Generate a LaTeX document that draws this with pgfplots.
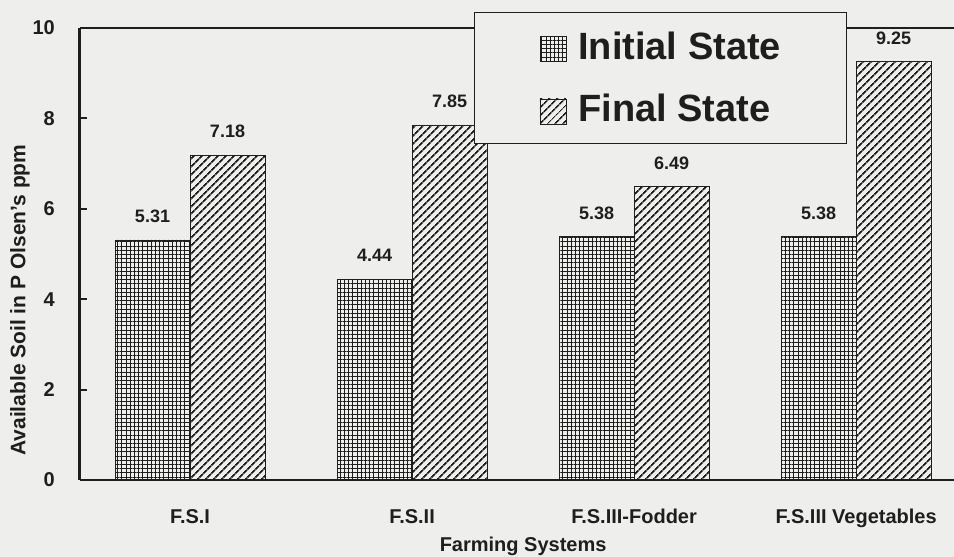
\documentclass[border=0pt]{standalone}
\usepackage{pgfplots}
\pgfplotsset{compat=1.18}
\usepackage{fontspec}
\setmainfont{Liberation Sans}
\usetikzlibrary{patterns.meta}
\definecolor{bg}{RGB}{238,238,236}
\definecolor{ink}{RGB}{30,30,30}
\tikzset{
  gridpat/.style={pattern={Hatch[angle=0,distance=4.2pt,line width=1pt]},pattern color=ink},
  linepat/.style={pattern={Lines[angle=45,distance=5.4pt,line width=1.7pt]},pattern color=ink},
}
\begin{document}
\begin{tikzpicture}
\fill[bg] (-80pt,-77pt) rectangle (874pt,480pt);
\begin{axis}[
  name=ax,
  at={(0pt,0pt)}, anchor=south west,
  scale only axis,
  width=874pt, height=452pt,
  ybar=0pt, bar width=75pt,
  xmin=-0.4955, xmax=3.441,
  ymin=0, ymax=10,
  axis lines=left,
  axis line style={-, ink},
  x axis line style={line width=2pt},
  y axis line style={line width=3pt},
  xtick={0,1,2,3},
  xticklabels={F.S.I, F.S.II, F.S.III-Fodder, F.S.III Vegetables},
  x tick style={draw=none},
  ytick={0,2,4,6,8,10},
  y tick style={line width=2pt, ink},
  tick align=inside,
  major tick length=7pt,
  /pgf/number format/assume math mode=true,
  yticklabel style={font=\bfseries\fontsize{20}{22}\selectfont, text=ink, inner sep=0pt, xshift=-25pt},
  xticklabel style={font=\bfseries\fontsize{20}{22}\selectfont, text=ink, inner sep=0pt, anchor=north, yshift=-29pt},
  ylabel={Available Soil in P Olsen's ppm},
  ylabel style={at={(axis description cs:-0.0686,0.398)}, anchor=center, rotate=0, font=\bfseries\fontsize{21}{24}\selectfont, text=ink, inner sep=0pt},
  xlabel={Farming Systems},
  xlabel style={at={(axis description cs:0.507,0)}, anchor=north, yshift=-57pt, font=\bfseries\fontsize{20}{23}\selectfont, text=ink, inner sep=0pt},
  nodes near coords={\pgfmathprintnumber[fixed,fixed zerofill,precision=2]{\pgfplotspointmeta}},
  every node near coord/.append style={font=\bfseries\fontsize{18}{20}\selectfont, text=ink, inner sep=0pt, anchor=south, yshift=17pt},
  legend style={
    at={(axis description cs:0.4508,1.0354)}, anchor=north west,
    draw=ink, line width=1pt, fill=bg,
    font=\bfseries\fontsize{38}{42}\selectfont, text=ink,
    inner xsep=65pt, inner ysep=19pt, row sep=33pt,
    nodes={inner sep=0pt},
    /tikz/every odd column/.append style={column sep=12pt},
    legend cell align=left,
  },
  legend image code/.code={\draw[#1, line width=0.8pt] (0pt,-15pt) rectangle (26pt,10pt);},
]
\addplot[draw=ink, line width=0.8pt, gridpat] coordinates {(0,5.31) (1,4.44) (2,5.38) (3,5.38)};
\addplot[draw=ink, line width=0.8pt, linepat] coordinates {(0,7.18) (1,7.85) (2,6.49) (3,9.25)};
\draw[ink, line width=1.5pt] (rel axis cs:0,1) -- (rel axis cs:1,1);
\legend{Initial State, Final State}
\end{axis}
\pgfresetboundingbox
\path[use as bounding box] (-80pt,-77pt) rectangle (874pt,480pt);
\end{tikzpicture}
\end{document}
